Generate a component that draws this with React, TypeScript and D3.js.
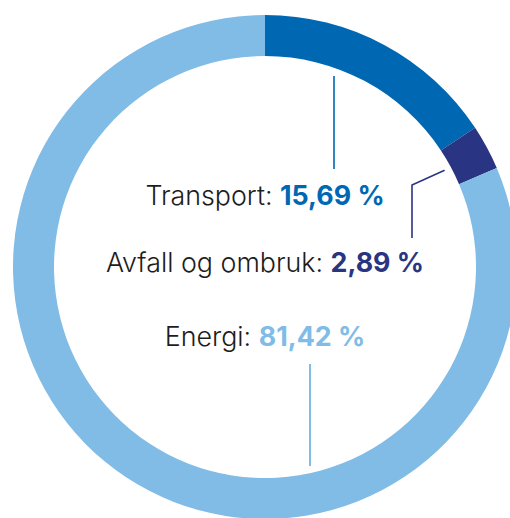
import React from "react";
import * as d3 from "d3";

const categories = ["Transport", "Avfall og ombruk", "Energi"];
const values = [15.69, 2.89, 81.42];
const valueLabels = ["15,69 %", "2,89 %", "81,42 %"];
const colors = ["#0067b2", "#293583", "#80bce5"];

const W = 510;
const H = 518;
const cx = 265;
const cy = 267;
const outerR = 252;
const innerR = 211;

export default function App() {
  const pie = d3.pie<number>().sort(null).value((d) => d);
  const arcs = pie(values);
  const arcGen = d3.arc<d3.PieArcDatum<number>>().innerRadius(innerR).outerRadius(outerR);

  const pt = (angle: number, r: number) => [cx + r * Math.sin(angle), cy - r * Math.cos(angle)];

  // Avfall leader: from segment mid-angle at radius 204
  const aMid = (arcs[1].startAngle + arcs[1].endAngle) / 2;
  const [ax0, ay0] = pt(aMid, 204);

  const font = "Inter, 'Open Sans', sans-serif";
  const labelY = [205, 272, 346];

  return (
    <svg width={W} height={H} style={{ position: "absolute", left: 0, top: 0 }}>
      <g>
        {arcs.map((a, i) => (
          <path key={i} d={arcGen(a) || ""} transform={`translate(${cx},${cy})`} fill={colors[i]} />
        ))}
      </g>
      {/* leader lines */}
      <line x1={334} y1={76} x2={334} y2={169} stroke={colors[0]} strokeWidth={1.6} />
      <polyline points={`${ax0},${ay0} 412,185 412,238`} fill="none" stroke={colors[1]} strokeWidth={1.6} />
      <line x1={310} y1={364} x2={310} y2={466} stroke={colors[2]} strokeWidth={2} />
      {categories.map((c, i) => (
        <text key={c} x={265} y={labelY[i]} textAnchor="middle" fontFamily={font} fontSize={26.8} fill="#1d1d1b">
          <tspan fontWeight={300}>{c}: </tspan>
          <tspan fontWeight={700} fill={colors[i]}>{valueLabels[i]}</tspan>
        </text>
      ))}
    </svg>
  );
}
